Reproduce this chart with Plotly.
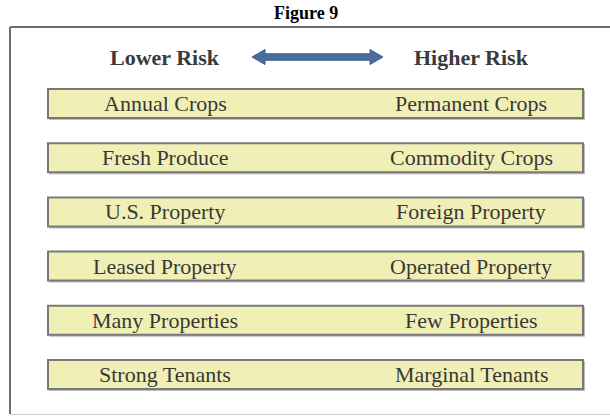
import plotly.graph_objects as go

title_text = "Figure 9"
header_left = "Lower Risk"
header_right = "Higher Risk"
left_labels = ["Annual Crops", "Fresh Produce", "U.S. Property", "Leased Property",
               "Many Properties", "Strong Tenants"]
right_labels = ["Permanent Crops", "Commodity Crops", "Foreign Property", "Operated Property",
                "Few Properties", "Marginal Tenants"]

W, H = 610, 416
fig = go.Figure()

shapes = []
annotations = []

# outer frame
shapes.append(dict(type="line", x0=10, x1=620, y0=27, y1=27, line=dict(color="#6e6e6e", width=2)))
shapes.append(dict(type="line", x0=10, x1=10, y0=27, y1=414, line=dict(color="#6e6e6e", width=2)))
shapes.append(dict(type="line", x0=10, x1=620, y0=414.5, y1=414.5, line=dict(color="#d0d0d0", width=1)))

# title
annotations.append(dict(x=306, y=13, text="<b>%s</b>" % title_text, showarrow=False,
                        font=dict(family="Liberation Serif", size=18, color="#000000"),
                        xanchor="center", yanchor="middle"))

# headers
for x, t in [(165, header_left), (471, header_right)]:
    annotations.append(dict(x=x, y=57, text="<b>%s</b>" % t, showarrow=False,
                            font=dict(family="Liberation Serif", size=22, color="#3a3a3a"),
                            xanchor="center", yanchor="middle"))

# double arrow
ax0, ax1, ay = 252, 383, 57
hw, sw, hl = 7.5, 3.2, 13
path = ("M {a0},{y} L {a0h},{yt} L {a0h},{ys} L {a1h},{ys} L {a1h},{yt} L {a1},{y} "
        "L {a1h},{yb} L {a1h},{ysb} L {a0h},{ysb} L {a0h},{yb} Z").format(
    a0=ax0, a1=ax1, a0h=ax0 + hl, a1h=ax1 - hl, y=ay, yt=ay - hw, yb=ay + hw,
    ys=ay - sw, ysb=ay + sw)
shapes.append(dict(type="path", path=path, fillcolor="#4a6d9e",
                   line=dict(color="#3e5f8e", width=1)))

# boxes
box_x0, box_x1 = 48, 583
top0, pitch, bh = 89, 54.2, 29
for i, (l, r) in enumerate(zip(left_labels, right_labels)):
    y0 = top0 + i * pitch
    y1 = y0 + bh
    shapes.append(dict(type="rect", x0=box_x0 + 1, x1=box_x1 + 2, y0=y0 + 1, y1=y1 + 2,
                       fillcolor="#bdbdbd", line=dict(width=0)))
    shapes.append(dict(type="rect", x0=box_x0, x1=box_x1, y0=y0, y1=y1,
                       fillcolor="#f0f0b6", line=dict(color="#787878", width=2)))
    yc = (y0 + y1) / 2
    annotations.append(dict(x=165, y=yc, text=l, showarrow=False,
                            font=dict(family="Liberation Serif", size=22, color="#383838"),
                            xanchor="center", yanchor="middle"))
    annotations.append(dict(x=471, y=yc, text=r, showarrow=False,
                            font=dict(family="Liberation Serif", size=22, color="#383838"),
                            xanchor="center", yanchor="middle"))

fig.update_layout(
    width=W, height=H,
    margin=dict(l=0, r=0, t=0, b=0),
    paper_bgcolor="white", plot_bgcolor="white",
    xaxis=dict(range=[0, W], visible=False, fixedrange=True),
    yaxis=dict(range=[H, 0], visible=False, fixedrange=True),
    shapes=shapes, annotations=annotations, showlegend=False,
)
fig.write_html("out.html", config={"displayModeBar": False},
               post_script="document.body.style.margin='0';document.body.style.overflow='hidden';")
